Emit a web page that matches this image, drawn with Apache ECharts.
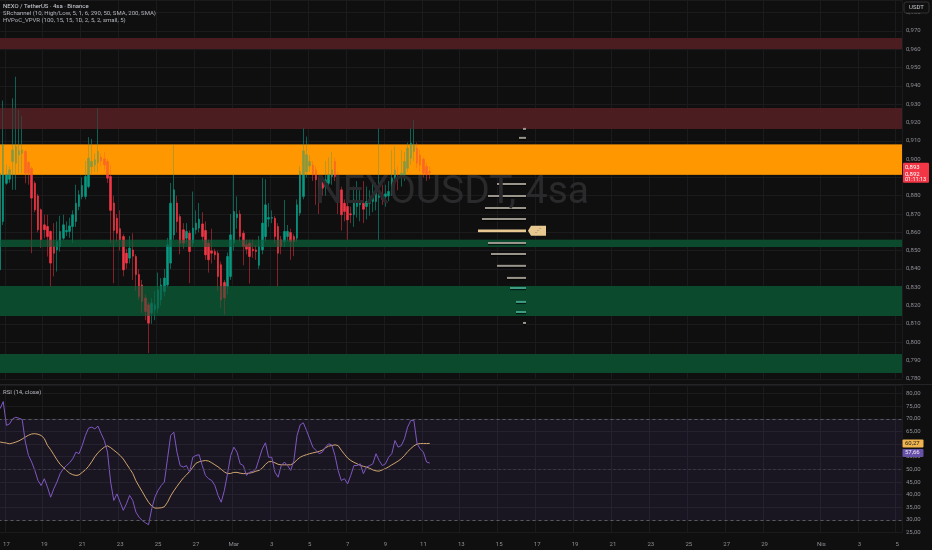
<!DOCTYPE html>
<html><head><meta charset="utf-8">
<script src="https://cdn.jsdelivr.net/npm/echarts@6/dist/echarts.min.js"></script>
<style>html,body{margin:0;padding:0;background:#0f0f0f;}#c{width:932px;height:550px;}</style>
</head><body><div id="c"></div>
<script>
// ---------- DATA ----------
const opens = [
0.8395,0.8659,0.8868,0.8890,0.8987,0.8978,0.9023,0.9032,0.9041,0.8981,
0.8950,0.8868,0.8799,0.8723,0.8641,0.8632,0.8605,0.8523,0.8504,0.8523,
0.8568,0.8603,0.8605,0.8632,0.8659,0.8741,0.8795,0.8796,0.8850,0.8959,
0.8968,0.8981,0.9009,0.9001,0.8987,0.8905,0.8760,0.8677,0.8620,0.8577,
0.8486,0.8459,0.8504,0.8468,0.8370,0.8313,0.8241,0.8204,0.8159,0.8177,
0.8186,0.8231,0.8277,0.8313,0.8432,0.8586,0.8760,0.8686,0.8614,0.8568,
0.8595,0.8541,0.8614,0.8623,0.8646,0.8610,0.8541,0.8499,0.8495,0.8486,
0.8423,0.8326,0.8304,0.8359,0.8541,0.8680,0.8700,0.8595,0.8532,0.8541,
0.8508,0.8504,0.8420,0.8504,0.8577,0.8672,0.8677,0.8677,0.8632,0.8559,
0.8550,0.8577,0.8599,0.8577,0.8568,0.8705,0.8796,0.8932,0.8963,0.8968,
0.8941,0.8896,0.8878,0.8850,0.8868,0.8905,0.8987,0.8914,0.8832,0.8759,
0.8741,0.8701,0.8696,0.8741,0.8750,0.8759,0.8741,0.8759,0.8768,0.8768,
0.8790,0.8805,0.8796,0.8799,0.8823,0.8887,0.8901,0.8899,0.8914,0.8950,
0.9005,0.9041,0.9060,0.9023,0.8999,0.8959,0.8932];
const closes = [
0.8923,0.9078,0.8914,0.8941,0.9050,0.9069,0.9045,0.9050,0.8923,0.8923,
0.8787,0.8723,0.8614,0.8559,0.8614,0.8577,0.8432,0.8486,0.8550,0.8605,
0.8641,0.8610,0.8635,0.8696,0.8759,0.8805,0.8856,0.8905,0.9005,0.8987,
0.8996,0.9041,0.8990,0.8968,0.8896,0.8720,0.8610,0.8595,0.8560,0.8395,
0.8432,0.8514,0.8470,0.8370,0.8250,0.8222,0.8168,0.8104,0.8213,0.8204,
0.8286,0.8313,0.8350,0.8532,0.8759,0.8832,0.8659,0.8541,0.8541,0.8605,
0.8495,0.8623,0.8650,0.8672,0.8577,0.8477,0.8450,0.8486,0.8477,0.8359,
0.8231,0.8241,0.8468,0.8586,0.8714,0.8700,0.8577,0.8523,0.8508,0.8468,
0.8499,0.8495,0.8523,0.8650,0.8750,0.8681,0.8681,0.8577,0.8486,0.8523,
0.8605,0.8605,0.8550,0.8550,0.8750,0.8932,0.9045,0.9023,0.8987,0.8914,
0.8887,0.8841,0.8841,0.8887,0.8914,0.8941,0.8905,0.8777,0.8696,0.8714,
0.8668,0.8696,0.8777,0.8768,0.8759,0.8726,0.8768,0.8777,0.8787,0.8841,
0.8800,0.8781,0.8810,0.8823,0.8896,0.8941,0.8892,0.8923,0.8987,0.9060,
0.9087,0.9078,0.8978,0.8968,0.8923,0.8914,0.8925];
const lows = [
0.8380,0.8640,0.8860,0.8870,0.8832,0.8832,0.8923,0.8923,0.8868,0.8860,
0.8486,0.8710,0.8600,0.8514,0.8568,0.8468,0.8304,0.8359,0.8386,0.8495,
0.8559,0.8580,0.8570,0.8541,0.8630,0.8720,0.8780,0.8780,0.8840,0.8920,
0.8930,0.8930,0.8960,0.8940,0.8870,0.8541,0.8322,0.8550,0.8500,0.8360,
0.8400,0.8430,0.8340,0.8280,0.8230,0.8160,0.8120,0.7940,0.8100,0.8120,
0.8160,0.8200,0.8250,0.8300,0.8400,0.8560,0.8600,0.8480,0.8510,0.8540,
0.8322,0.8520,0.8590,0.8600,0.8550,0.8450,0.8380,0.8430,0.8450,0.8280,
0.8186,0.8150,0.8260,0.8340,0.8500,0.8620,0.8550,0.8420,0.8480,0.8320,
0.8460,0.8450,0.8400,0.8480,0.8550,0.8630,0.8650,0.8540,0.8304,0.8480,
0.8520,0.8550,0.8450,0.8470,0.8550,0.8690,0.8780,0.8900,0.8930,0.8880,
0.8750,0.8700,0.8800,0.8800,0.8840,0.8860,0.8880,0.8700,0.8610,0.8660,
0.8559,0.8650,0.8630,0.8680,0.8660,0.8650,0.8670,0.8690,0.8710,0.8720,
0.8559,0.8750,0.8740,0.8770,0.8800,0.8860,0.8830,0.8850,0.8880,0.8930,
0.8970,0.8990,0.8950,0.8930,0.8900,0.8880,0.8890];
const highs = [
0.9660,0.9320,0.8970,0.8960,0.9332,0.9450,0.9269,0.9236,0.9050,0.8990,
0.8960,0.8880,0.8810,0.8730,0.8696,0.8696,0.8610,0.8650,0.8659,0.8690,
0.8696,0.8660,0.8680,0.8720,0.8860,0.8830,0.8900,0.8990,0.9120,0.9110,
0.9030,0.9278,0.9030,0.9040,0.9000,0.8968,0.8800,0.8700,0.8720,0.8590,
0.8510,0.8580,0.8595,0.8480,0.8400,0.8340,0.8260,0.8220,0.8240,0.8280,
0.8380,0.8350,0.8400,0.8570,0.8870,0.9078,0.8800,0.8700,0.8650,0.8650,
0.8610,0.8823,0.8720,0.8760,0.8710,0.8660,0.8560,0.8620,0.8510,0.8500,
0.8440,0.8340,0.8490,0.8700,0.8914,0.8796,0.8720,0.8610,0.8560,0.8560,
0.8560,0.8530,0.8580,0.8896,0.8890,0.8760,0.8720,0.8690,0.8650,0.8580,
0.8777,0.8640,0.8620,0.8590,0.8780,0.8960,0.9169,0.9123,0.9020,0.8990,
0.8960,0.8910,0.8910,0.8990,0.9010,0.9040,0.9010,0.8930,0.8850,0.8780,
0.8800,0.8740,0.8850,0.8880,0.8830,0.8880,0.8850,0.8830,0.8870,0.8870,
0.9169,0.8860,0.8860,0.8880,0.9050,0.9070,0.8960,0.9050,0.9040,0.9090,
0.9169,0.9214,0.9090,0.9050,0.9010,0.8980,0.8960];
const rsi = [
74,76.8,67.4,68,70,70.6,70.2,69.7,60.8,55.5,
52.9,49.6,45.6,43.6,46.3,43,39,42.3,45,48.3,
50.2,51.5,52.6,54.2,56.8,56.2,59.4,63.4,66.3,66.7,
66,67.1,64.1,61.4,56.8,45,37.7,40.3,37,33.8,
36.4,39.7,37.7,33.1,31.1,29.8,28.9,28.1,34.4,39,
41.7,43.6,45,54.2,63.4,64.7,56.8,51.5,50.9,51.5,
48.9,54.8,55.5,55.8,51.5,47.6,46.3,45.6,43.6,39.7,
37,41.7,48.3,55.5,58.8,56.8,52.2,51.5,47.6,48.9,
49.2,50.2,54.2,58.1,60.5,54.8,54.8,48.9,46.9,51.5,
52.9,51.5,49.6,53.5,63.4,67.6,68.4,65.4,62.1,58.8,
57.5,56.2,56.8,58.8,60.1,59.7,55.5,49.6,45.6,46.3,
44.3,47.6,51.5,51.5,52.2,48.3,50.9,51.5,52.2,56.2,
53.5,51.5,52.2,54.8,56.2,61.4,58.8,59.4,62.1,66.7,
69.3,69.3,60.1,58.1,56.8,52.9,52.5];
const rsiMa = [
60.8,60.6,60.4,60.1,60.4,60.8,61.3,62,62.8,63.5,
64,64.1,63.9,63.4,62.2,59.5,57.8,55.8,53.8,52,
50.8,49.6,48.5,47.9,47.6,47.8,48.8,49.8,51.2,53,
55,56.6,57.8,58.8,59.3,58.6,57.6,56.6,55.5,54.1,
52.2,50.3,48.4,45.5,43.3,41.2,39,37,35.5,34.7,
34.7,34.8,35.2,37,39.5,41.5,43.3,45,46.6,47.8,
49.2,50.8,52.4,53,53.3,53.5,53.3,52.6,51.8,51,
50,49,48.3,48.4,48.8,48.8,48.5,48.3,48.4,48.5,
48.8,49.3,49.6,50.5,52,53,53.1,52.6,52,51.8,
51.8,51.8,51.8,52.5,53.8,54.8,55.4,55.8,56.2,56.5,
56.8,57.1,57.6,58.5,59.2,59.4,59.7,59.4,57.6,56,
54.5,53.5,52.8,52.2,51.6,51.2,50.9,50.4,49.8,49.4,
49.3,49.8,50.3,51,51.8,52.5,53.3,54.2,55.5,57,
58.2,59.3,60,60.2,60.2,60.2,60.27];
// SR channel zones
const zoneLows  = [0.9602, 0.9165, 0.8915, 0.8520, 0.8143, 0.7832];
const zoneHighs = [0.9662, 0.9279, 0.9080, 0.8559, 0.8307, 0.7936];
const zoneKinds = ['res', 'res', 'pivot', 'sup', 'sup', 'sup'];
// visible-range volume profile
const vpPrices  = [0.9165,0.9116,0.8864,0.8799,0.8733,0.8673,0.8608,0.8542,0.8482,0.8417,0.8351,0.8296,0.8220,0.8165,0.8105];
const vpVolumes = [6,14,58,76,82,88,96,76,70,58,38,32,20,20,6];
// time axis tick labels
const tickDates  = ['02-17','02-19','02-21','02-23','02-25','02-27','03-01','03-03','03-05','03-07','03-09','03-11','03-13','03-15','03-17','03-19','03-21','03-23','03-25','03-27','03-29','04-01','04-03','04-05'];
const tickLabels = ['17','19','21','23','25','27','Mar','3','5','7','9','11','13','15','17','19','21','23','25','27','29','Nis','3','5'];
// texts
const headerLines = ['NEXO / TetherUS · 4sa · Binance','SRchannel (10, High/Low, 5, 1, 6, 290, 50, SMA, 200, SMA)','HVPoC_VPVR (100, 15, 15, 1D, 2, 5, 2, small, 5)'];
const priceTags = ['0,893','0,892','01:11:13'];
const rsiTags = ['60,27','57,66'];

// ---------- BUILD ----------
const FONT = 'Roboto, "Liberation Sans", sans-serif';
const UP = '#089981', DOWN = '#f23645';
const p2 = n => (n < 10 ? '0' : '') + n;
const slots = [];
{
  const start = Date.UTC(2025, 1, 16, 16);
  for (let i = 0; i < 286; i++) {
    const d = new Date(start + i * 14400000);
    slots.push(p2(d.getUTCMonth() + 1) + '-' + p2(d.getUTCDate()) + ' ' + p2(d.getUTCHours()));
  }
}
const tickLookup = {};
tickDates.forEach((d, i) => { tickLookup[d + ' 00'] = tickLabels[i]; });
const isTick = (idx, val) => Object.prototype.hasOwnProperty.call(tickLookup, val === undefined ? slots[idx] : val);

const wickData = opens.map((o, i) => [o, closes[i], lows[i], highs[i]]);
const bodyData = opens.map((o, i) => [o, closes[i], Math.min(o, closes[i]), Math.max(o, closes[i])]);
const zoneData = zoneLows.map((lo, i) => [0, lo, zoneHighs[i]]);
const vpData = vpPrices.map((p, i) => [vpVolumes[i], p]);
const pocIdx = vpVolumes.indexOf(Math.max.apply(null, vpVolumes));

const zoneColor = { res: [75, 28, 32], pivot: [255, 152, 0], sup: [12, 74, 46] };
function zoneRender(alpha) {
  return function (params, api) {
    const yTop = api.coord([0, api.value(2)])[1];
    const yBot = api.coord([0, api.value(1)])[1];
    const cs = params.coordSys;
    const c = zoneColor[zoneKinds[params.dataIndex]];
    return { type: 'rect', shape: { x: cs.x, y: yTop, width: cs.width, height: yBot - yTop },
      style: { fill: 'rgba(' + c[0] + ',' + c[1] + ',' + c[2] + ',' + alpha + ')' } };
  };
}
// bars lying in a wide support band are tinted
function inWideSupport(p) {
  for (let i = 0; i < zoneLows.length; i++) {
    if (zoneKinds[i] === 'sup' && zoneHighs[i] - zoneLows[i] > 0.01 && p >= zoneLows[i] - 0.001 && p <= zoneHighs[i] + 0.001) return true;
  }
  return false;
}
function vpRender(params, api) {
  const a = api.coord([0, api.value(1)]);
  const b = api.coord([api.value(0), api.value(1)]);
  const poc = params.dataIndex === pocIdx;
  const h = poc ? 2.6 : 2;
  return { type: 'group', children: [
    { type: 'rect', shape: { x: b[0], y: a[1] + h / 2, width: a[0] - b[0], height: 1.2 }, style: { fill: 'rgba(0,0,0,0.6)' } },
    { type: 'rect', shape: { x: b[0], y: a[1] - h / 2, width: a[0] - b[0], height: h },
      style: { fill: poc ? '#e8c891' : (inWideSupport(api.value(1)) ? '#3f9c84' : '#9a958a') } }
  ] };
}
const priceFmt = v => (Math.abs(v * 100 - Math.round(v * 100)) > 1e-6) ? '' : v.toFixed(3).replace('.', ',');
const rsiFmt = v => (Math.abs(v / 5 - Math.round(v / 5)) > 1e-6) ? '' : v.toFixed(2).replace('.', ',');
const labelStyle = { color: '#8d8f96', fontSize: 6, fontFamily: FONT };
const gridLine = { lineStyle: { color: '#1b1b1d', width: 1 } };

const option = {
  animation: false,
  backgroundColor: '#0f0f0f',
  grid: [
    { left: -1.5, right: 30, top: 0, height: 378.8, outerBoundsMode: 'none', containLabel: false },
    { left: -1.5, right: 30, top: 385.4, height: 147.2, outerBoundsMode: 'none', containLabel: false },
    { left: 0, right: 406, top: 0, height: 378.8, outerBoundsMode: 'none', containLabel: false }
  ],
  xAxis: [
    { type: 'category', gridIndex: 0, data: slots, boundaryGap: true,
      axisLine: { show: false }, axisTick: { show: false, alignWithLabel: true, interval: isTick },
      axisLabel: { show: false, interval: isTick }, splitLine: Object.assign({ show: true, interval: isTick }, gridLine) },
    { type: 'category', gridIndex: 1, data: slots, boundaryGap: true,
      axisLine: { show: false }, axisTick: { show: false, alignWithLabel: true, interval: isTick },
      axisLabel: Object.assign({ show: true, interval: isTick, margin: 9, formatter: v => tickLookup[v] || '' }, labelStyle),
      splitLine: Object.assign({ show: true, interval: isTick }, gridLine) },
    { type: 'value', gridIndex: 2, min: 0, max: 1052, inverse: true, show: false }
  ],
  yAxis: [
    { type: 'value', gridIndex: 0, position: 'right', min: 0.78, max: 0.9869, interval: 0.01, scale: true,
      axisLine: { show: false }, axisTick: { show: false },
      axisLabel: Object.assign({ formatter: priceFmt, showMaxLabel: false, margin: 4, align: 'left' }, labelStyle),
      splitLine: gridLine },
    { type: 'value', gridIndex: 1, position: 'right', min: 25, max: 83.2, interval: 5,
      axisLine: { show: false }, axisTick: { show: false },
      axisLabel: Object.assign({ formatter: rsiFmt, showMaxLabel: false, margin: 4, align: 'left' }, labelStyle),
      splitLine: gridLine },
    { type: 'value', gridIndex: 2, min: 0.78, max: 0.9869, show: false }
  ],
  series: [
    { type: 'custom', name: 'zonesUnder', xAxisIndex: 0, yAxisIndex: 0, data: zoneData, z: 1, silent: true,
      encode: { x: 0, y: [1, 2] }, renderItem: zoneRender(1) },
    { type: 'candlestick', name: 'wicks', xAxisIndex: 0, yAxisIndex: 0, data: wickData, barWidth: 1, z: 2, silent: true,
      itemStyle: { color: 'rgba(0,0,0,0)', color0: 'rgba(0,0,0,0)', borderColor: 'rgba(8,153,129,0.6)', borderColor0: 'rgba(242,54,69,0.5)', borderWidth: 1 } },
    { type: 'candlestick', name: 'bodies', xAxisIndex: 0, yAxisIndex: 0, data: bodyData, barWidth: 2, z: 3, silent: true,
      itemStyle: { color: UP, color0: DOWN, borderColor: UP, borderColor0: DOWN, borderWidth: 0.6 } },
    { type: 'custom', name: 'zonesOver', xAxisIndex: 0, yAxisIndex: 0, data: zoneData, z: 4, silent: true,
      encode: { x: 0, y: [1, 2] }, renderItem: zoneRender(0.5) },
    { type: 'custom', name: 'vpvr', xAxisIndex: 2, yAxisIndex: 2, data: vpData, z: 5, silent: true,
      encode: { x: 0, y: 1 }, renderItem: vpRender },
    { type: 'line', name: 'RSI', xAxisIndex: 1, yAxisIndex: 1, data: rsi, showSymbol: false, z: 3, silent: true,
      lineStyle: { color: '#7e57c2', width: 1 },
      markArea: { silent: true, itemStyle: { color: 'rgba(126,87,194,0.1)' }, data: [[{ yAxis: 70 }, { yAxis: 30 }]] },
      markLine: { silent: true, symbol: ['none', 'none'], label: { show: false },
        lineStyle: { color: '#5b5a63', type: [3, 3], width: 1 },
        data: [{ yAxis: 70 }, { yAxis: 50, lineStyle: { color: '#3f3d47', type: [2, 3], width: 1 } }, { yAxis: 30 }] } },
    { type: 'line', name: 'RSI MA', xAxisIndex: 1, yAxisIndex: 1, data: rsiMa, showSymbol: false, z: 2, silent: true,
      lineStyle: { color: '#cfa46e', width: 1 } }
  ]
};

const chart = echarts.init(document.getElementById('c'));
chart.setOption(option);

const py = v => chart.convertToPixel({ yAxisIndex: 0 }, v);
const ry = v => chart.convertToPixel({ yAxisIndex: 1 }, v);
const pocPt = chart.convertToPixel({ gridIndex: 2 }, [0, vpPrices[pocIdx]]);
const lastY = py(closes[closes.length - 1]);
const maY = ry(rsiMa[rsiMa.length - 1]);
const txt = (text, x, y, fill, size, extra) => ({ type: 'text', x: x, y: y, silent: true, z: 100,
  style: Object.assign({ text: text, fill: fill, font: (size || 6) + 'px ' + FONT, verticalAlign: 'middle', align: 'left' }, extra || {}) });

chart.setOption({ graphic: [
  txt('NEXOUSDT, 4sa', 315, 193, '#2a2a2c', 39),
  txt(headerLines[0], 3, 6, '#d1d4dc', 6),
  txt(headerLines[1], 3, 13.5, '#b2b5be', 6),
  txt(headerLines[2], 3, 20.5, '#b2b5be', 6),
  { type: 'rect', shape: { x: 0, y: 384, width: 932, height: 1 }, style: { fill: '#242426' }, silent: true, z: 90 },
  txt('RSI (14, close)', 3, 392, '#b2b5be', 6),
  { type: 'rect', shape: { x: 904, y: 2, width: 25, height: 11, r: 2 }, style: { fill: '#0f0f0f', stroke: '#333336', lineWidth: 1 }, silent: true, z: 100 },
  txt('USDT', 916.5, 7.5, '#c8cad0', 6, { align: 'center' }),
  { type: 'rect', shape: { x: 903, y: lastY - 10, width: 26, height: 20, r: 1 }, style: { fill: '#f23645' }, silent: true, z: 100 },
  txt(priceTags[0], 905, lastY - 5.5, '#ffffff', 6),
  txt(priceTags[1], 905, lastY + 1.5, '#ffffff', 6),
  txt(priceTags[2], 905, lastY + 7, '#ffffff', 5.5),
  { type: 'rect', shape: { x: 902.5, y: maY - 4, width: 21, height: 8, r: 1 }, style: { fill: '#efb34f' }, silent: true, z: 100 },
  txt(rsiTags[0], 905, maY, '#1a1a1a', 6),
  { type: 'rect', shape: { x: 902.5, y: maY + 5.5, width: 21, height: 8, r: 1 }, style: { fill: '#6750a8' }, silent: true, z: 100 },
  txt(rsiTags[1], 905, maY + 9.5, '#ece8f8', 6),
  { type: 'polygon', shape: { points: [[pocPt[0] + 2, pocPt[1]], [pocPt[0] + 5, pocPt[1] - 5], [pocPt[0] + 20, pocPt[1] - 5], [pocPt[0] + 20, pocPt[1] + 5], [pocPt[0] + 5, pocPt[1] + 5]] },
    style: { fill: '#e8c891' }, silent: true, z: 100 },
  txt('⋰', pocPt[0] + 9, pocPt[1], '#7a6440', 6)
] });
</script></body></html>
